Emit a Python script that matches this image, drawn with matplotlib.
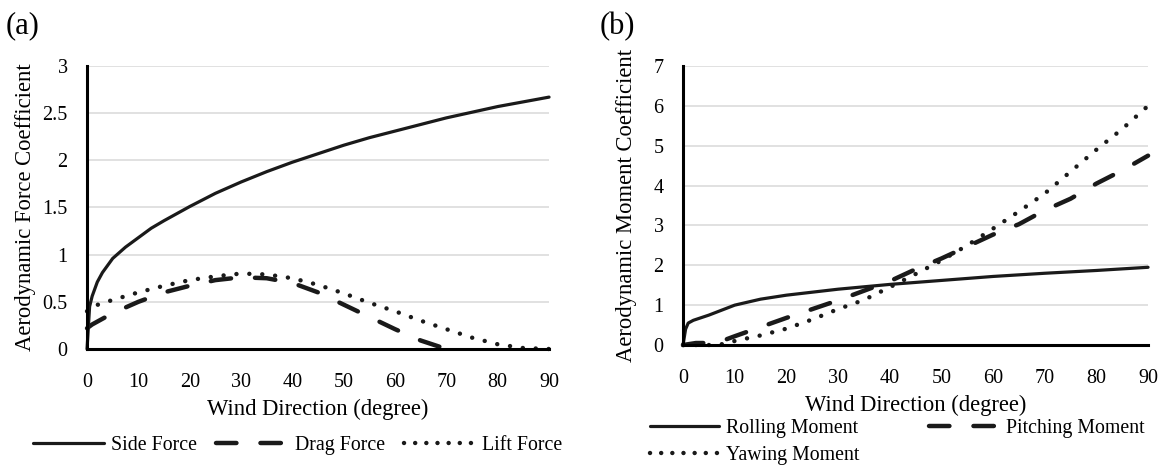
import matplotlib
matplotlib.use("Agg")
import matplotlib.pyplot as plt
from matplotlib.lines import Line2D

plt.rcParams['font.family'] = ['Liberation Serif', 'DejaVu Serif']

# panel (a): force coefficients
side_x = [0, 0.5, 1, 2, 3, 5, 7.5, 10, 12.5, 15, 20, 25, 30, 35, 40, 45, 50, 55, 60, 65, 70, 75, 80, 85, 90]
side_y = [0, 0.45, 0.56, 0.71, 0.81, 0.96, 1.08, 1.18, 1.28, 1.36, 1.51, 1.65, 1.77, 1.88, 1.98, 2.07, 2.16, 2.24, 2.31, 2.38, 2.45, 2.51, 2.57, 2.62, 2.67]
drag_x = [0, 1, 3, 5, 10, 15, 20, 25, 30, 35, 40, 45, 50, 55, 60, 65, 70]
drag_y = [0.22, 0.26, 0.32, 0.38, 0.5, 0.6, 0.67, 0.73, 0.76, 0.75, 0.7, 0.6, 0.47, 0.34, 0.21, 0.09, 0.0]
lift_x = [0, 1, 5, 10, 15, 20, 25, 30, 35, 40, 45, 50, 55, 60, 65, 70, 75, 80, 85, 90]
lift_y = [0.4, 0.45, 0.52, 0.6, 0.67, 0.73, 0.77, 0.8, 0.79, 0.75, 0.68, 0.59, 0.49, 0.4, 0.3, 0.21, 0.12, 0.05, 0.01, 0.0]

# panel (b): moment coefficients
roll_x = [0, 0.5, 1, 2, 5, 10, 15, 20, 30, 40, 50, 60, 70, 80, 90]
roll_y = [0, 0.4, 0.55, 0.62, 0.75, 1.0, 1.15, 1.25, 1.4, 1.52, 1.62, 1.72, 1.8, 1.87, 1.95]
pitch_x = [0, 2.5, 5, 7.5, 10, 15, 20, 25, 30, 35, 40, 45, 50, 55, 60, 65, 70, 75, 80, 85, 90]
pitch_y = [0, 0.05, 0.05, 0.1, 0.22, 0.45, 0.68, 0.9, 1.12, 1.36, 1.6, 1.9, 2.17, 2.47, 2.77, 3.03, 3.38, 3.67, 4.05, 4.38, 4.75]
yaw_x = [0, 5, 7.5, 10, 15, 20, 25, 30, 35, 40, 45, 50, 55, 60, 65, 70, 75, 80, 85, 90]
yaw_y = [0, 0, 0.02, 0.1, 0.24, 0.41, 0.64, 0.9, 1.13, 1.45, 1.78, 2.12, 2.5, 2.92, 3.35, 3.8, 4.35, 4.9, 5.42, 6.0]

xticks = list(range(0, 100, 10))
TICK_FS = 14.5
LABEL_FS = 16.3
LEG_FS = 14.3
INK = '#1a1a1a'
# (linestyle, linewidth) per series type; legend dots sit a bit closer
STY = {
    'solid': ('-', 2.3),
    'dash': ((0, (4.6, 5.4)), 3.2),
    'dot': ((0, (0.01, 2.9)), 3.2),
}
LEG_DOT = (0, (0.01, 2.5))

fig = plt.figure(figsize=(11.62, 4.68), dpi=100)
ax1 = fig.add_axes([0.0749, 0.2543, 0.3976, 0.6047])
ax2 = fig.add_axes([0.5878, 0.2628, 0.4002, 0.5962])


def style(ax, ymax, ystep, ylabel, ylab_x):
    ax.set_xlim(0, 90)
    ax.set_ylim(0, ymax)
    ax.set_xticks(xticks)
    yt = [i * ystep for i in range(int(round(ymax / ystep)) + 1)]
    ax.set_yticks(yt)
    ax.set_yticklabels([('%g' % v) for v in yt])
    ax.grid(axis='y', color='#d9d9d9', lw=1.1)
    ax.set_axisbelow(True)
    for s in ['top', 'right']:
        ax.spines[s].set_visible(False)
    for s in ['left', 'bottom']:
        ax.spines[s].set_linewidth(2.2)
        ax.spines[s].set_color('black')
    ax.tick_params(axis='x', length=0, labelsize=TICK_FS, pad=17)
    ax.tick_params(axis='y', length=0, labelsize=TICK_FS, pad=14)
    ax.set_xlabel('Wind Direction (degree)', fontsize=LABEL_FS, labelpad=5)
    ax.set_ylabel(ylabel, fontsize=LABEL_FS)
    ax.yaxis.set_label_coords(ylab_x, 0.5)


def draw(ax, x, y, kind, label):
    ls, lw = STY[kind]
    return ax.plot(x, y, color=INK, lw=lw, linestyle=ls, label=label,
                   dash_capstyle='round', solid_capstyle='round', clip_on=False)[0]


def leg_handle(kind, label):
    ls, lw = STY[kind]
    if kind == 'dot':
        ls = LEG_DOT
    return Line2D([], [], color=INK, lw=lw, linestyle=ls, label=label,
                  dash_capstyle='round', solid_capstyle='round')


draw(ax1, side_x, side_y, 'solid', 'Side Force')
draw(ax1, drag_x, drag_y, 'dash', 'Drag Force')
draw(ax1, lift_x, lift_y, 'dot', 'Lift Force')
style(ax1, 3, 0.5, 'Aerodynamic Force Coefficient', -0.11)

draw(ax2, roll_x, roll_y, 'solid', 'Rolling Moment')
draw(ax2, pitch_x, pitch_y, 'dash', 'Pitching Moment')
draw(ax2, yaw_x, yaw_y, 'dot', 'Yawing Moment')
style(ax2, 7, 1, 'Aerodynamic Moment Coefficient', -0.099)

h1 = [leg_handle('solid', 'Side Force'), leg_handle('dash', 'Drag Force'),
      leg_handle('dot', 'Lift Force')]
fig.legend(handles=h1, loc='center', bbox_to_anchor=(0.256, 0.049), ncol=3,
           frameon=False, fontsize=LEG_FS, handlelength=3.6, columnspacing=0.95,
           handletextpad=0.35)

# column-major fill: roll/yaw in column 1, pitch in column 2
h2 = [leg_handle('solid', 'Rolling Moment'), leg_handle('dot', 'Yawing Moment'),
      leg_handle('dash', 'Pitching Moment')]
fig.legend(handles=h2, loc='center', bbox_to_anchor=(0.772, 0.056), ncol=2,
           frameon=False, fontsize=LEG_FS, handlelength=3.5, columnspacing=3.5,
           handletextpad=0.35, labelspacing=0.42, borderaxespad=0)

fig.text(0.005, 0.975, '(a)', fontsize=22, va='top')
fig.text(0.516, 0.975, '(b)', fontsize=22, va='top')

fig.savefig('out.png', dpi=100)
